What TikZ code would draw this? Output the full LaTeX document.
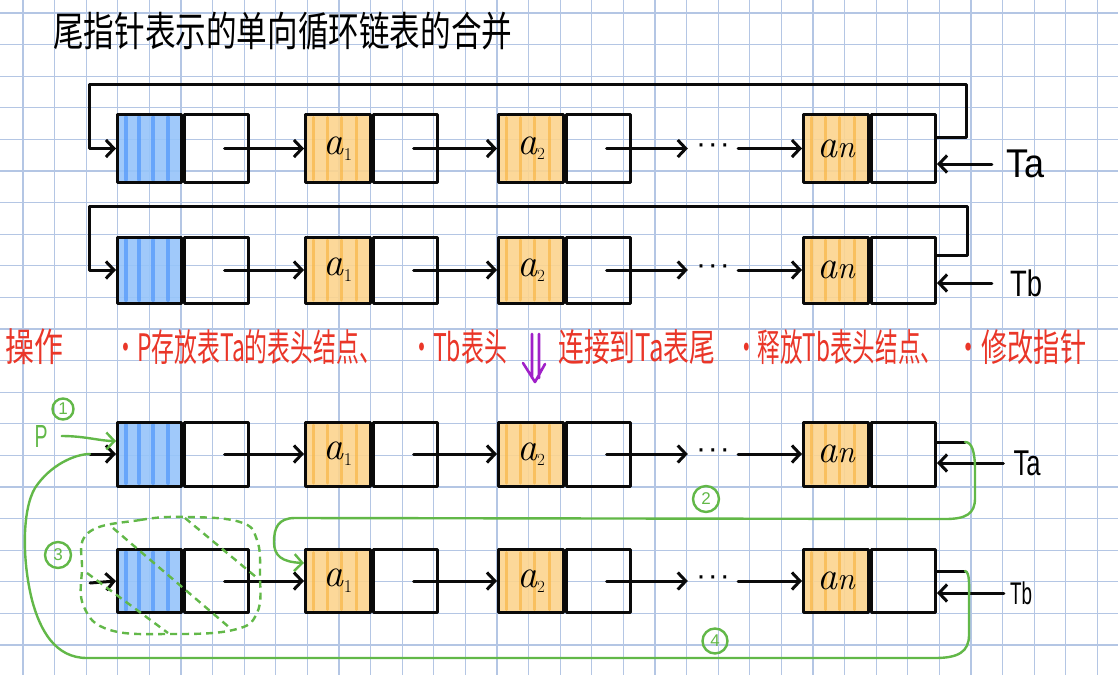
\documentclass[tikz,border=0pt]{standalone}
\usepackage{fontspec}
\usepackage{graphicx}
\newfontfamily\cjk{Noto Sans CJK SC}
\newfontfamily\hand{Liberation Sans}
\usetikzlibrary{arrows.meta,calc}

\definecolor{gridline}{RGB}{180,198,228}
\definecolor{ink}{RGB}{10,10,10}
\definecolor{bluefill}{RGB}{150,196,250}
\definecolor{bluestripe}{RGB}{84,154,250}
\definecolor{orangefill}{RGB}{252,212,142}
\definecolor{orangestripe}{RGB}{248,184,76}
\definecolor{notered}{RGB}{234,54,40}
\definecolor{greenpen}{RGB}{98,184,72}
\definecolor{purplepen}{RGB}{160,32,200}

\tikzset{
  pen/.style={draw=ink, line width=3pt, line cap=round, line join=round},
  arr/.style={pen, -{Straight Barb[length=8pt,width=17pt]}},
  gpen/.style={draw=greenpen, line width=2.4pt, line cap=round, line join=round},
  garr/.style={gpen, -{Straight Barb[length=8pt,width=17pt]}},
  gdash/.style={gpen, line cap=butt, dash pattern=on 7pt off 5pt},
  ppen/.style={draw=purplepen, line width=2.6pt, line cap=round, line join=round},
  stripes/.style 2 args={path picture={
    \foreach \sx in {0.13,0.34,0.56,0.79}{
      \draw[#1, line width=#2, line cap=round, opacity=0.75]
        ($(path picture bounding box.south west)!\sx!(path picture bounding box.south east)+(0,3pt)$)
        -- ($(path picture bounding box.north west)!\sx!(path picture bounding box.north east)+(0,-3pt)$);
    }}},
  cell/.style={pen, rectangle, inner sep=0pt, anchor=west, minimum height=68pt},
  headcell/.style={cell, minimum width=64pt, fill=bluefill, fill opacity=0.9, stripes={bluestripe}{4pt}},
  datacell/.style={cell, minimum width=65pt, fill=orangefill, fill opacity=0.9, text opacity=1,
    stripes={orangestripe}{3pt}, font=\fontsize{40}{40}\selectfont\itshape},
  nextcell/.style={cell, minimum width=64pt},
  dots/.style={inner sep=0pt, minimum width=50pt, font=\hand\fontsize{30}{30}\selectfont},
  lab/.style={inner sep=0pt, font=\hand},
  gtext/.style={inner sep=0pt, text=greenpen, font=\hand},
  gnum/.style={circle, gpen, inner sep=0pt, text=greenpen, font=\hand\fontsize{17}{17}\selectfont},
  notetext/.style={inner sep=0pt, anchor=west, text=notered, font=\cjk},
}

% one singly linked list: head node, a1, a2, ..., an
\newcommand\listrow[3]{%
  \node[headcell, minimum height=#3] (h#1d) at (116,#2) {};
  \node[nextcell, minimum height=#3] (h#1n) at (h#1d.east) {};
  \node[datacell, minimum height=#3] (a#1d) at (304,#2) {a\raisebox{-6pt}{\fontsize{18}{18}\selectfont\upshape 1}};
  \node[nextcell, minimum height=#3] (a#1n) at (a#1d.east) {};
  \node[datacell, minimum height=#3] (b#1d) at (497,#2) {a\raisebox{-5pt}{\fontsize{17}{17}\selectfont\upshape 2}};
  \node[nextcell, minimum height=#3] (b#1n) at (b#1d.east) {};
  \node[dots] (d#1) at (713,#2) {·\hspace{2pt}·\hspace{2pt}·};
  \node[datacell, minimum height=#3] (n#1d) at (802,#2) {a{\fontsize{32}{32}\selectfont n}};
  \node[nextcell, minimum height=#3] (n#1n) at (n#1d.east) {};
  \draw[arr] ([xshift=8pt]h#1n.center) -- (a#1d.west);
  \draw[arr] ([xshift=8pt]a#1n.center) -- (b#1d.west);
  \draw[arr] ([xshift=8pt]b#1n.center) -- (d#1.west);
  \draw[arr] (d#1.east) -- (n#1d.west);
}

\begin{document}
\begin{tikzpicture}[x=1pt,y=-1pt]
\fill[white] (0,0) rectangle (1118,675);
\useasboundingbox (0,0) rectangle (1118,675);

% squared paper
\foreach \gx in {0,...,34} \draw[gridline, line width=1.3pt] ({23+31.6*\gx},0) -- ({23+31.6*\gx},675);
\foreach \gy in {0,...,20} \draw[gridline, line width=1.3pt] (0,{13+31.6*\gy}) -- (1118,{13+31.6*\gy});

% title
\node[inner sep=0pt, anchor=west, font=\cjk] (title) at (53,31)
  {\resizebox*{459pt}{38pt}{尾指针表示的单向循环链表的合并}};

% the two circular lists Ta and Tb
\listrow{1}{148.5}{68pt}
\draw[arr] ([yshift=11pt]n1n.east) -- ++(29,0) |- (89,84) |- (h1d.west);
\node[lab] (Ta1) at (1025,164) {\resizebox*{38pt}{28pt}{Ta}};
\draw[arr] ([xshift=-14pt]Ta1.west) -- (Ta1.west -| n1n.east);

\listrow{2}{270}{66pt}
\draw[arr] ([yshift=15pt]n2n.east) -- ++(30,0) |- (89,206) |- (h2d.west);
\node[lab] (Tb2) at (1026,283) {\resizebox*{32pt}{27pt}{Tb}};
\draw[arr] ([xshift=-18pt]Tb2.west) -- (Tb2.west -| n2n.east);

% steps of the merge
\node[notetext] (op) at (5,347) {\resizebox*{58pt}{36pt}{操作}};
\node[notetext] (st1) at (114,347) {\resizebox*{268pt}{35pt}{·P存放表Ta的表头结点、}};
\node[notetext] (st2) at (410,347) {\resizebox*{97pt}{35pt}{·Tb表头}};
\draw[ppen] (532,334) -- (532,378) (539,334) -- (539,378) (523,363) -- (535,382) -- (545,364);
\node[notetext] (st3) at (558,347) {\resizebox*{157pt}{35pt}{连接到Ta表尾}};
\node[notetext] (st4) at (735,347) {\resizebox*{208pt}{35pt}{·释放Tb表头结点、}};
\node[notetext] (st5) at (955,347) {\resizebox*{131pt}{35pt}{·修改指针}};

% the lists during the merge
\listrow{3}{454}{64pt}
\coordinate (in3) at (90,454);
\draw[arr] (in3) -- (h3d.west);
\draw[pen] ([yshift=12pt]n3n.east) -- ++(28,0) coordinate (s3);
\node[lab] (Ta3) at (1027,463) {\resizebox*{27pt}{25pt}{Ta}};
\draw[arr] ([xshift=-10pt]Ta3.west) -- (Ta3.west -| n3n.east);

\listrow{4}{581}{63pt}
\coordinate (in4) at (90,583);
\draw[arr] (in4) -- (h4d.west);
\draw[pen] ([yshift=10pt]n4n.east) -- ++(28,0) coordinate (s4);
\node[lab] (Tb4) at (1021,593) {\resizebox*{22pt}{23pt}{Tb}};
\draw[arr] ([xshift=-6pt]Tb4.west) -- (Tb4.west -| n4n.east);

% step 1: p keeps the head of Ta
\node[gtext] (P) at (41,436) {\resizebox*{13pt}{22pt}{P}};
\node[gnum, minimum size=21pt] (c1) at (63,409) {1};
\draw[garr] ([xshift=14pt]P.east) .. controls (85,436) and (100,441) .. ([yshift=13pt]h3d.west);

% step 2: tail of Ta to the first node of Tb
\draw[garr] (s3) .. controls (972,442) and (975,452) .. (975,470) -- (975,498)
  .. controls (975,514) and (966,519) .. (945,519) -- (295,518)
  .. controls (278,518) and (274,528) .. (274,542)
  .. controls (274,556) and (282,562) .. ([yshift=18pt]a4d.west);
\node[gnum, minimum size=26pt] (c2) at (706,499) {2};

% step 3: head of Tb is freed
\draw[gdash] plot[smooth cycle, tension=0.7] coordinates {(88,533) (140,520) (187,517) (240,522) (257,540) (260,575) (257,613) (233,630) (170,634) (110,630) (84,607) (82,570)};
\draw[gdash] (185,518) -- (256,577);
\draw[gdash] (113,528) -- (230,628);
\draw[gdash] (87,573) -- (168,633);
\node[gnum, minimum size=26pt] (c3) at (58,555) {3};

% step 4: tail of Tb to the head of Ta
\draw[gpen] (s4) .. controls (970,572) and (969,585) .. (969,600) -- (969,635)
  .. controls (969,652) and (958,658) .. (935,658) -- (87,658)
  .. controls (55,658) and (40,630) .. (32,600)
  .. controls (22,560) and (22,510) .. (35,488)
  .. controls (50,465) and (75,454) .. (in3);
\node[gnum, minimum size=25pt] (c4) at (715,641) {4};
\end{tikzpicture}
\end{document}
